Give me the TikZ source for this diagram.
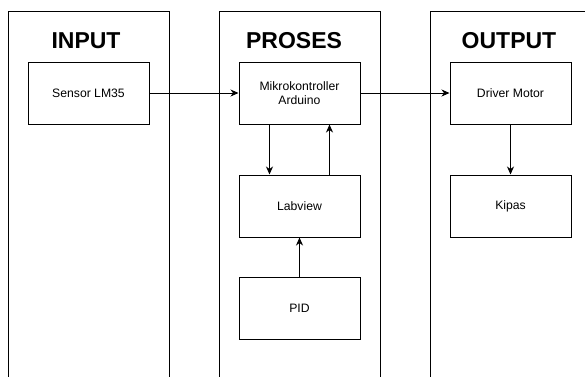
\documentclass[tikz,border=0pt]{standalone}
\usepackage{fontspec}
\setmainfont{Liberation Sans}
\usepackage{tikz}
\usetikzlibrary{positioning,arrows.meta}

\tikzset{
  column/.style={draw, line width=1pt, minimum width=161, minimum height=400, anchor=north},
  block/.style={draw, line width=1pt, minimum width=121, minimum height=62, align=center, font=\fontsize{12.2}{14}\selectfont},
  title/.style={font=\fontsize{23}{26}\selectfont\bfseries},
  link/.style={line width=1pt, -{Stealth[length=8pt,width=7pt,inset=2.5pt]}}
}

\begin{document}
\begin{tikzpicture}[x=1pt,y=-1pt]
\clip (0,0) rectangle (585,376);
\fill[white] (0,0) rectangle (585,376);
% columns
\node[column] (inputcol) at (88.5,11) {};
\node[column] (prosescol) at (299.5,11) {};
\node[column] (outputcol) at (510.5,11) {};

\node[title] (input) at (86,41) {INPUT};
\node[title] (proses) at (294,41) {PROSES};
\node[title] (output) at (509,41) {OUTPUT};

% blocks
\node[block] (sensor) at (88.5,93) {Sensor LM35};
\node[block] (mikro) at (299.5,93) {Mikrokontroller\\Arduino};
\node[block] (driver) at (510.5,93) {Driver Motor};
\node[block] (labview) at (299.5,206) {Labview};
\node[block] (pid) at (299.5,308.5) {PID};
\node[block] (kipas) at (510.5,206) {Kipas};

% connectors
\draw[link] (sensor) -- (mikro);
\draw[link] (mikro) -- (driver);
\draw[link] ([xshift=-30]mikro.south) -- ([xshift=-30]labview.north);
\draw[link] ([xshift=30]labview.north) -- ([xshift=30]mikro.south);
\draw[link] (pid) -- (labview);
\draw[link] (driver) -- (kipas);
\end{tikzpicture}
\end{document}
